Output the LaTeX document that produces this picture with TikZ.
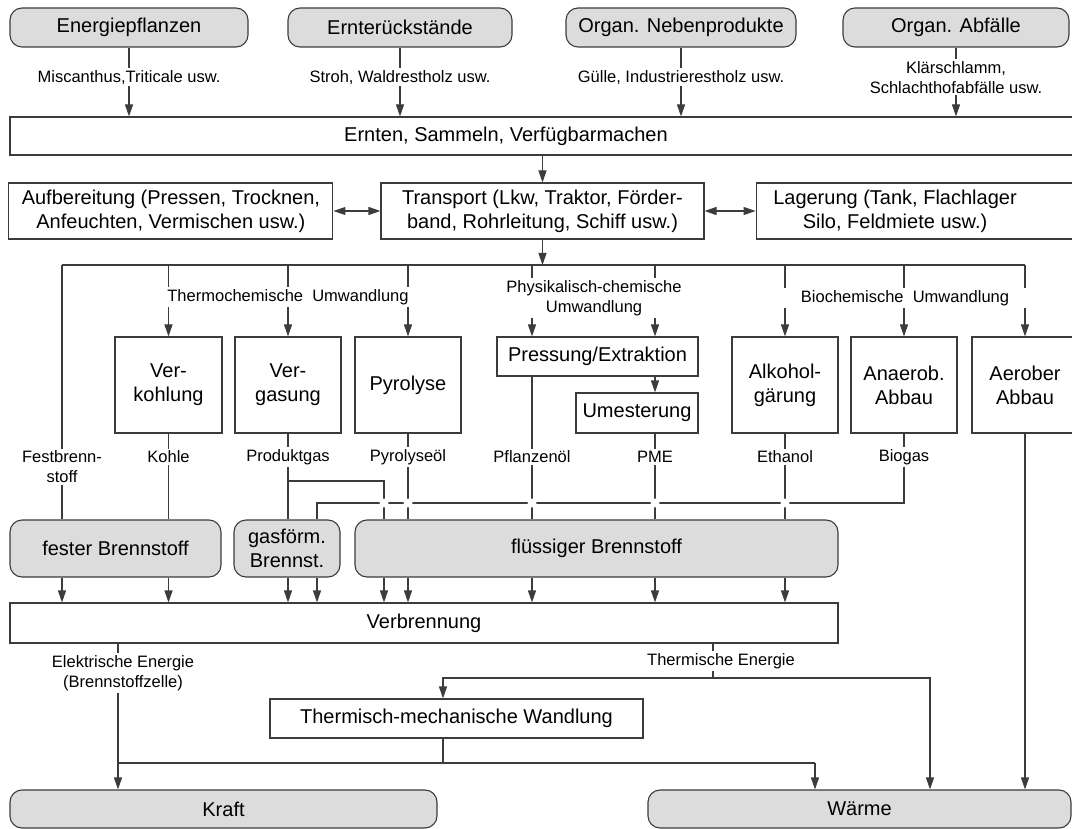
\documentclass[tikz,border=0pt]{standalone}
\usepackage{fontspec}
\setmainfont{Liberation Sans}
\usepackage{xcolor}
\usepackage{tikz}
\usetikzlibrary{arrows.meta,positioning}

\definecolor{srcgray}{RGB}{220,220,220}
\definecolor{edgegray}{RGB}{60,60,60}

\begin{document}
\begin{tikzpicture}[
  x=1pt, y=-1pt,
  proc/.style={draw=edgegray, line width=1.1pt, fill=white, align=center, inner sep=2pt, font=\fontsize{20}{24}\selectfont},
  res/.style={proc, fill=srcgray, rounded corners=12pt},
  note/.style={fill=white, align=center, inner sep=2pt, font=\fontsize{16.5}{20}\selectfont},
  txt/.style={align=center, font=\fontsize{20}{24}\selectfont},
  wh/.style 2 args={minimum width=#1pt, minimum height=#2pt},
  link/.style={draw=edgegray, line width=1.1pt},
  arrow/.style={link, -{Triangle[length=12pt, width=8pt]}},
  darrow/.style={link, {Triangle[length=12pt, width=8pt]}-{Triangle[length=12pt, width=8pt]}},
]
\clip (0,0) rectangle (1072,829);

\node[res, wh={238}{39}] (s1) at (129,27.5) {Energiepflanzen};
\node[res, wh={224}{39}] (s2) at (400,27.5) {Ernterückstände};
\node[res, wh={230}{39}] (s3) at (681,27.5) {Organ. Nebenprodukte};
\node[res, wh={226}{39}] (s4) at (956,27.5) {Organ. Abfälle};

\node[proc, wh={1080}{38}] (ernte) at (550,136) {};
\node[txt] (erntetxt) at (506,136) {Ernten, Sammeln, Verfügbarmachen};

\draw[arrow] (s1) -- (s1 |- ernte.north) node[note, pos=.43] {Miscanthus,Triticale usw.};
\draw[arrow] (s2) -- (s2 |- ernte.north) node[note, pos=.43] {Stroh, Waldrestholz usw.};
\draw[arrow] (s3) -- (s3 |- ernte.north) node[note, pos=.43] {Gülle, Industrierestholz usw.};
\draw[arrow] (s4) -- (s4 |- ernte.north) node[note, pos=.43] {Klärschlamm,\\Schlachthofabfälle usw.};

\node[proc, wh={323}{56}] (trans) at (542.5,211) {Transport (Lkw, Traktor, Förder-\\band, Rohrleitung, Schiff usw.)};
\node[proc, wh={324}{56}, left=47pt of trans] (prep) {Aufbereitung (Pressen, Trocknen,\\Anfeuchten, Vermischen usw.)};
\node[proc, wh={340}{56}, right=51pt of trans] (store) {};
\node[txt] (storetxt) at (895,211) {Lagerung (Tank, Flachlager\\Silo, Feldmiete usw.)};

\draw[arrow] (ernte.south -| trans) -- (trans);
\draw[darrow] (prep) -- (trans);
\draw[darrow] (trans) -- (store);

\coordinate (busL) at (62,265);
\draw[arrow] (trans) -- (trans |- busL);

\node[proc, wh={107}{96}] (verk) at (168.5,385) {Ver-\\kohlung};
\node[proc, wh={106}{96}] (verg) at (288,385) {Ver-\\gasung};
\node[proc, wh={106}{96}] (pyro) at (408,385) {Pyrolyse};
\node[proc, wh={201}{39}] (press) at (597.5,356.5) {Pressung/Extraktion};
\node[proc, wh={122}{40}] (umest) at (637,413) {Umesterung};
\node[proc, wh={106}{96}] (alko) at (785,385) {Alkohol-\\gärung};
\node[proc, wh={106}{96}] (anae) at (904,385) {Anaerob.\\Abbau};
\node[proc, wh={106}{96}] (aero) at (1025,385) {Aerober\\Abbau};

\draw[link] (busL) -- (aero |- busL);

\coordinate (cPfl) at (532,457);
\coordinate (cPme) at (655,457);
\coordinate (cSyn) at (384,481);
\coordinate (cGas) at (317,503);

\draw[arrow] (verk |- busL) -- (verk);
\draw[arrow] (verg |- busL) -- (verg);
\draw[arrow] (pyro |- busL) -- (pyro);
\draw[arrow] (cPfl |- busL) -- (cPfl |- press.north);
\draw[arrow] (cPme |- busL) -- (cPme |- press.north);
\draw[arrow] (cPme |- press.south) -- (cPme |- umest.north);
\draw[arrow] (alko |- busL) -- (alko);
\draw[arrow] (anae |- busL) -- (anae);
\draw[arrow] (aero |- busL) -- (aero);

\node[note, minimum width=262pt] (lThermo) at (288,297) {Thermochemische~ Umwandlung};
\node[note] (lPhys) at (594,298) {Physikalisch-chemische\\Umwandlung};
\node[note, minimum width=262pt] (lBioch) at (905,298) {Biochemische~ Umwandlung};

\node[res, wh={211}{57}] (fest) at (115.5,548.5) {fester Brennstoff};
\node[res, wh={106}{57}] (gasf) at (287,548.5) {gasförm.\\Brennst.};
\node[res, wh={483}{57}] (fluess) at (596.5,548.5) {flüssiger Brennstoff};
\node[proc, wh={828}{40}] (verbr) at (424,623) {Verbrennung};

\draw[link] (busL) -- (busL |- fest.north);
\draw[link] (verk) -- (verk |- fest.north);
\draw[link] (verg) -- (verg |- gasf.north);
\draw[link] (verg |- cSyn) -| (cSyn |- fluess.north);
\draw[link] (pyro) -- (pyro |- fluess.north);
\draw[link] (cPfl |- press.south) -- (cPfl |- fluess.north);
\draw[link] (cPme |- umest.south) -- (cPme |- fluess.north);
\draw[link] (alko) -- (alko |- fluess.north);
\draw[link] (anae) |- (cGas) -- (cGas |- gasf.north);

\fill[white] (cSyn |- cGas) circle[radius=4.5pt];
\fill[white] (pyro |- cGas) circle[radius=4.5pt];
\fill[white] (cPfl |- cGas) circle[radius=4.5pt];
\fill[white] (cPme |- cGas) circle[radius=4.5pt];
\fill[white] (alko |- cGas) circle[radius=4.5pt];

\node[note] (lFest) at (62,467) {Festbrenn-\\stoff};
\node[note] (lKohle) at (verk |- cPfl) {Kohle};
\node[note] (lGas) at (verg |- cPfl) {Produktgas};
\node[note] (lPyro) at (pyro |- cPfl) {Pyrolyseöl};
\node[note] (lPfl) at (cPfl) {Pflanzenöl};
\node[note] (lPme) at (cPme) {PME};
\node[note] (lEth) at (alko |- cPfl) {Ethanol};
\node[note] (lBiogas) at (anae |- cPfl) {Biogas};

\draw[arrow] (busL |- fest.south) -- (busL |- verbr.north);
\draw[arrow] (verk |- fest.south) -- (verk |- verbr.north);
\draw[arrow] (verg |- gasf.south) -- (verg |- verbr.north);
\draw[arrow] (cGas |- gasf.south) -- (cGas |- verbr.north);
\draw[arrow] (cSyn |- fluess.south) -- (cSyn |- verbr.north);
\draw[arrow] (pyro |- fluess.south) -- (pyro |- verbr.north);
\draw[arrow] (cPfl |- fluess.south) -- (cPfl |- verbr.north);
\draw[arrow] (cPme |- fluess.south) -- (cPme |- verbr.north);
\draw[arrow] (alko |- fluess.south) -- (alko |- verbr.north);

\node[proc, wh={373}{39}] (tmw) at (456.5,718.5) {Thermisch-mechanische Wandlung};
\node[res, wh={427}{38}] (kraft) at (223.5,809) {Kraft};
\node[res, wh={423}{38}] (waerme) at (859.5,809) {Wärme};

\coordinate (cElec) at (118,673);
\coordinate (tSplit) at (713,678);
\coordinate (cTmw) at (443,763);
\coordinate (cWarm) at (815,763);
\coordinate (cTherm) at (930,678);

\draw[arrow] (cElec |- verbr.south) -- (cElec |- kraft.north);
\draw[link] (tSplit |- verbr.south) -- (tSplit);
\draw[arrow] (tSplit) -| (cTmw |- tmw.north);
\draw[arrow] (tSplit) -| (cTherm |- waerme.north);
\draw[link] (cTmw |- tmw.south) -- (cTmw);
\draw[link] (cElec |- cTmw) -- (cWarm);
\draw[arrow] (cWarm) -- (cWarm |- waerme.north);
\draw[arrow] (aero) -- (aero |- waerme.north);

\node[note] (lElec) at (123,673) {Elektrische Energie\\(Brennstoffzelle)};
\node[note] (lTherm) at (721,661) {Thermische Energie};

\end{tikzpicture}
\end{document}
